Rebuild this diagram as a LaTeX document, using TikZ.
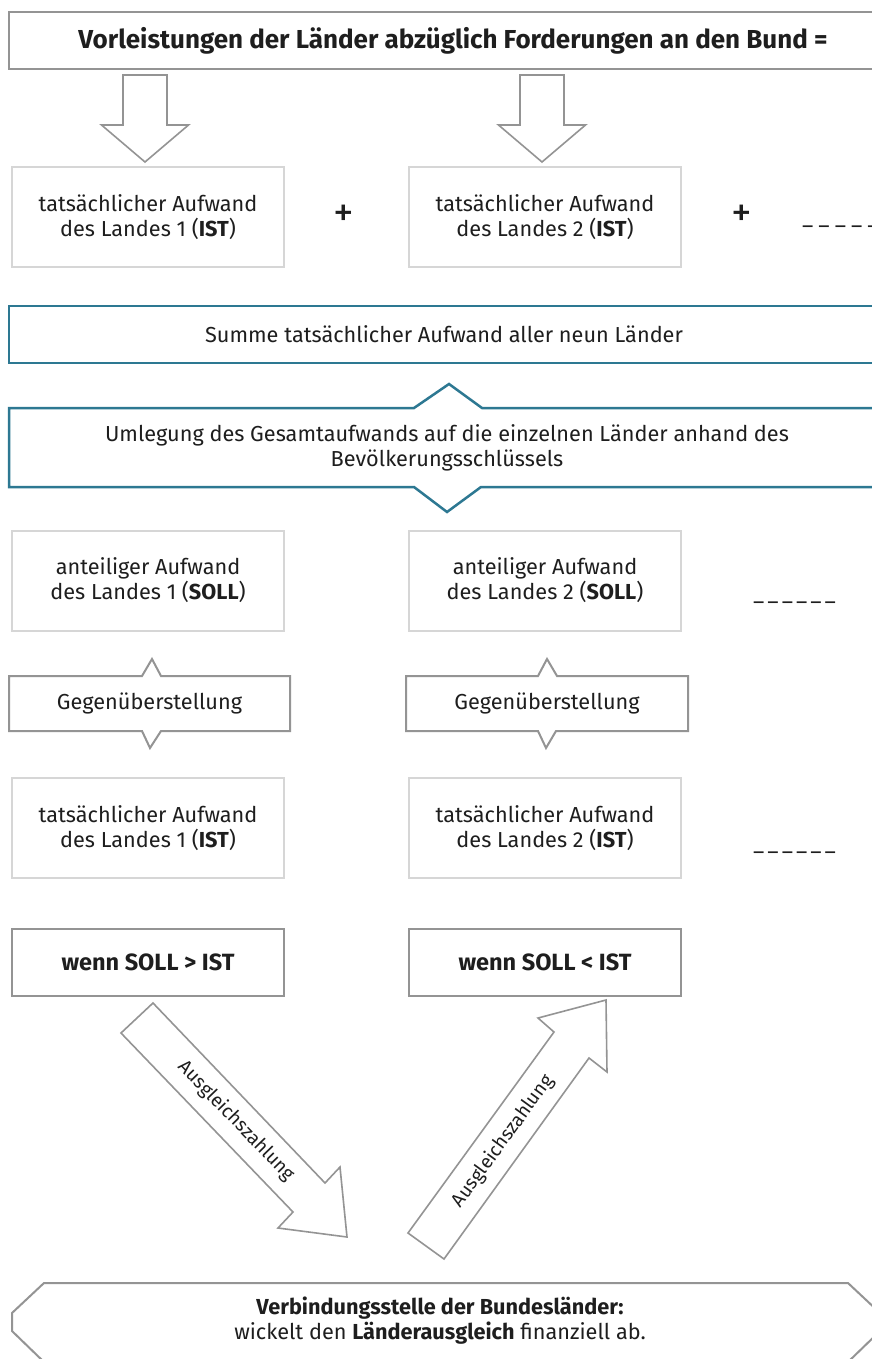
\documentclass[tikz,border=0pt]{standalone}
\usepackage{fontspec}
\setmainfont{Fira Sans}
\usetikzlibrary{calc}
\definecolor{lgray}{RGB}{214,214,214}
\definecolor{mgray}{RGB}{148,148,148}
\definecolor{tealc}{RGB}{45,120,146}
\definecolor{ink}{RGB}{30,30,30}
\newcommand{\dsh}[1]{\textendash\kern#1}
\begin{document}
\begin{tikzpicture}[x=1pt,y=-1pt, line join=miter,
  every node/.style={text=ink, font=\fontsize{21.7}{25}\selectfont, inner sep=0pt},
  lbox/.style={draw=lgray, line width=2pt, minimum width=272, minimum height=100, align=center},
  gbox/.style={draw=mgray, line width=2pt, align=center},
  tbox/.style={draw=tealc, line width=2.5pt, align=center},
  plain/.style={align=center},
  outline/.style={draw=mgray, line width=2pt},
  toutline/.style={draw=tealc, line width=2.5pt},
  barrow/.style={draw=mgray, line width=1.6pt, fill=white},
  plussign/.style={font=\fontsize{21.7}{25}\selectfont, scale=1.9},
  dashes/.style={anchor=west},
  rot/.style={font=\fontsize{19}{22}\selectfont},
  wenn/.style={gbox, minimum width=272, minimum height=67, font=\bfseries\fontsize{23.5}{26}\selectfont}
]
\useasboundingbox (0,0) rectangle (872,1359);
\clip (0,0) rectangle (872,1359);
\fill[white] (0,0) rectangle (872,1359);

% top box
\node[gbox, minimum width=888, minimum height=57, font=\bfseries\fontsize{26}{28}\selectfont] (top) at (453,40.5)
  {Vorleistungen der Länder abzüglich Forderungen an den Bund =};

% row 1
\node[lbox] (ist1) at (148,217) {tatsächlicher Aufwand\\des Landes 1 (\textbf{IST})};
\node[lbox] (ist2) at (545,217) {tatsächlicher Aufwand\\des Landes 2 (\textbf{IST})};
\node[plussign] (p1) at (344,216) {+};
\node[plussign] (p2) at (742,216) {+};
\node[dashes] (d1) at (802,230) {\dsh{5pt}\dsh{5pt}\dsh{5pt}\dsh{5pt}\dsh{5pt}};

% block arrows top -> row 1
\coordinate (a1) at ($(ist1.north)+(-3,-4)$);
\coordinate (a2) at ($(ist2.north)+(-3,-4)$);
\foreach \a in {a1,a2}{
  \draw[barrow] (\a) -- ++(-43.5,-37) -- ++(21.5,0) -- ++(0,-50) -- ++(44,0) -- ++(0,50) -- ++(21.5,0) -- cycle;
}

% Summe box
\node[tbox, minimum width=870, minimum height=57] (sum) at (444,334.5)
  {Summe tatsächlicher Aufwand aller neun Länder};

% Umlegung box
\node[plain, minimum width=870, minimum height=79] (uml) at (447,447.5)
  {Umlegung des Gesamtaufwands auf die einzelnen Länder anhand des\\Bevölkerungsschlüssels};
\draw[toutline] (890,408) -- (482,408) -- (449,384) -- (414,408) -- (9,408) -- (9,487)
  -- (414,487) -- (447,512) -- (481,487) -- (890,487);

% row SOLL
\node[lbox] (soll1) at (148,580.5) {anteiliger Aufwand\\des Landes 1 (\textbf{SOLL})};
\node[lbox] (soll2) at (545,580.5) {anteiliger Aufwand\\des Landes 2 (\textbf{SOLL})};
\node[dashes] (d2) at (753,606) {\dsh{3pt}\dsh{3pt}\dsh{3pt}\dsh{3pt}\dsh{3pt}\textendash};

% Gegenueberstellung
\node[plain, minimum width=281, minimum height=55] (g1) at (149.5,703.5) {Gegenüberstellung};
\node[plain, minimum width=282, minimum height=55] (g2) at (547,703.5) {Gegenüberstellung};
\draw[outline] (9,676) -- (142,676) -- (152,659) -- (161,676) -- (290,676) -- (290,731)
  -- (161,731) -- (150,748) -- (142,731) -- (9,731) -- cycle;
\draw[outline] (406,676) -- (538,676) -- (547,659) -- (557,676) -- (688,676) -- (688,731)
  -- (556,731) -- (546,748) -- (538,731) -- (406,731) -- cycle;

% row IST
\node[lbox] (ist3) at (148,828) {tatsächlicher Aufwand\\des Landes 1 (\textbf{IST})};
\node[lbox] (ist4) at (545,828) {tatsächlicher Aufwand\\des Landes 2 (\textbf{IST})};
\node[dashes] (d3) at (753,856) {\dsh{3pt}\dsh{3pt}\dsh{3pt}\dsh{3pt}\dsh{3pt}\textendash};

% wenn boxes
\node[wenn] (w1) at (148,962.5) {wenn SOLL > IST};
\node[wenn] (w2) at (545,962.5) {wenn SOLL < IST};

% diagonal block arrows
\draw[barrow] (153,1003) -- (325,1183) -- (340,1167) -- (347,1237) -- (278,1228) -- (293,1212) -- (121,1033) -- cycle;
\draw[barrow] (408,1233) -- (554,1032) -- (538,1018) -- (606,1000) -- (607,1072) -- (589,1058) -- (444,1259) -- cycle;
\node[rot, rotate=-46] (l1) at (236,1121) {Ausgleichszahlung};
\node[rot, rotate=54] (l2) at (503,1141) {Ausgleichszahlung};

% hexagon
\node[plain, minimum width=868, minimum height=76] (vb) at (440,1321)
  {\textbf{Verbindungsstelle der Bundesländer:}\\wickelt den \textbf{Länderausgleich} finanziell ab.};
\draw[outline] (44,1283) -- (848,1283) -- (880,1313) -- (880,1331) -- (848,1362) -- (44,1362) -- (12,1331) -- (12,1313) -- cycle;
\end{tikzpicture}
\end{document}
